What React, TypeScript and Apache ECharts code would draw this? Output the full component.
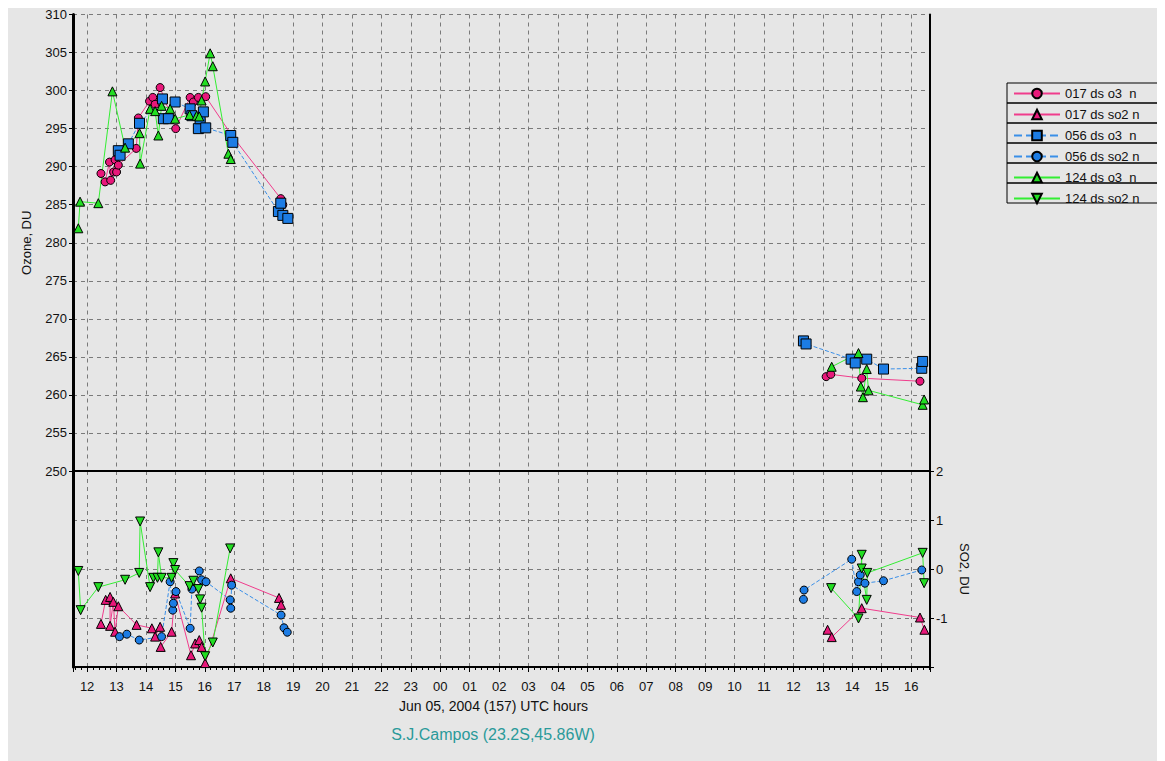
import React, { useEffect, useRef } from 'react';
import * as echarts from 'echarts';

// hours since 00 UTC Jun 05 (values > 24 belong to the next day)
const ozone017Early: [number, number][] = [[12.47,289.1],[12.61,288.0],[12.76,290.6],[12.8,288.2],[12.9,289.3],[12.95,290.9],[13.0,289.3],[13.06,290.2],[13.67,292.4],[13.74,296.4],[14.12,298.6],[14.23,299.1],[14.31,298.2],[14.48,300.4],[15.01,295.0],[15.5,299.1],[15.61,298.5],[15.78,299.1],[16.03,299.2],[16.9,294.2],[18.58,285.8],[18.65,285.0]];
const ozone017Late: [number, number][] = [[37.11,262.4],[37.27,262.7],[38.32,262.2],[40.3,261.8]];

const ozone056Early: [number, number][] = [[13.06,292.1],[13.12,291.5],[13.4,293.0],[13.78,295.7],[14.56,298.9],[14.59,296.3],[14.76,296.3],[14.99,298.5],[15.5,297.6],[15.56,296.7],[15.78,295.0],[15.84,296.3],[15.95,297.2],[16.03,295.1],[16.88,294.1],[16.95,293.2],[18.5,284.1],[18.58,285.2],[18.65,283.6],[18.82,283.2]];
const ozone056Late: [number, number][] = [[36.34,267.1],[36.43,266.7],[37.96,264.7],[38.1,264.2],[38.49,264.7],[39.06,263.4],[40.36,263.5],[40.39,264.4]];

const ozone124Early: [number, number][] = [[11.7,281.9],[11.76,285.4],[12.38,285.2],[12.86,299.9],[13.29,292.5],[13.78,294.4],[13.8,290.4],[14.14,297.6],[14.31,297.3],[14.42,294.1],[14.53,298.0],[14.82,297.6],[14.99,296.3],[15.48,296.8],[15.72,296.7],[15.81,296.6],[15.89,298.7],[16.01,301.2],[16.18,304.9],[16.27,303.2],[16.8,291.7],[16.88,291.0]];
const ozone124Late: [number, number][] = [[37.3,263.7],[38.21,265.5],[38.29,261.1],[38.36,259.7],[38.49,263.4],[38.55,260.6],[40.39,258.7],[40.44,259.4]];

const so2017Early: [number, number][] = [[12.47,-1.12],[12.63,-0.63],[12.78,-0.57],[12.78,-1.16],[12.89,-0.67],[12.95,-1.28],[13.06,-0.76],[13.68,-1.14],[14.2,-1.21],[14.31,-1.38],[14.48,-1.18],[14.5,-1.59],[14.87,-1.28],[14.99,-0.5],[15.53,-1.76],[15.67,-1.52],[15.81,-1.45],[15.89,-1.59],[16.01,-1.92],[16.88,-0.19],[18.52,-0.59],[18.59,-0.73]];
const so2017Late: [number, number][] = [[37.16,-1.24],[37.3,-1.39],[38.32,-0.8],[40.3,-0.99],[40.45,-1.24]];

const so2056Early: [number, number][] = [[13.1,-1.38],[13.35,-1.33],[13.77,-1.45],[14.53,-1.38],[14.82,-0.26],[14.91,-0.84],[14.93,-0.7],[15.02,-0.46],[15.5,-1.21],[15.56,-0.41],[15.81,-0.04],[15.89,-0.22],[16.04,-0.26],[16.86,-0.63],[16.88,-0.8],[16.91,-0.33],[18.59,-0.94],[18.69,-1.2],[18.8,-1.29]];
const so2056Late: [number, number][] = [[36.34,-0.62],[36.36,-0.43],[37.98,0.2],[38.15,-0.46],[38.21,-0.26],[38.27,-0.12],[38.43,-0.29],[39.06,-0.24],[40.36,-0.02]];

const so2124Early: [number, number][] = [[11.7,-0.04],[11.78,-0.84],[12.38,-0.37],[13.29,-0.22],[13.77,-0.08],[13.8,0.97],[14.14,-0.37],[14.25,-0.18],[14.39,-0.18],[14.42,0.34],[14.53,-0.18],[14.87,-0.18],[14.93,0.12],[14.99,-0.02],[15.48,-0.35],[15.61,-0.24],[15.78,-0.41],[15.84,-0.62],[15.89,-0.79],[16.01,-1.78],[16.27,-1.5],[16.86,0.42]];
const so2124Late: [number, number][] = [[37.28,-0.39],[38.21,-1.01],[38.32,0.29],[38.32,0.01],[38.49,-0.63],[38.51,-0.08],[40.39,0.33],[40.44,-0.29]];

const seriesNames = ['017 ds o3\u00a0 n', '017 ds so2 n', '056 ds o3\u00a0 n', '056 ds so2 n', '124 ds o3\u00a0 n', '124 ds so2 n'];
const ozoneRange = [250, 310];
const so2Range = [-2, 2];
const hourRange = [11.52, 40.64];
const xAxisTitle = 'Jun 05, 2004 (157) UTC hours';
const stationTitle = 'S.J.Campos (23.2S,45.86W)';

const FONT = '"Liberation Sans", Arial, Helvetica, sans-serif';
const PINK = '#e8187a';
const PINK_LINE = '#f03c8c';
const BLUE = '#1c7ce4';
const BLUE_LINE = '#3a8fe8';
const GREEN = '#22dd22';
const GREEN_LINE = '#33ee33';

const joinGap = (a: [number, number][], b: [number, number][]) => [...a, [27, '-'], ...b];

export default function App() {
  const ref = useRef<HTMLDivElement>(null);
  useEffect(() => {
    if (!ref.current) return;
    const chart = echarts.init(ref.current, undefined, { renderer: 'svg' });
    const dashed = { show: true, lineStyle: { color: '#7a7a7a', type: [4, 4] as any, width: 1 } };
    const mk = (name: string, data: any[], xi: number, yi: number, color: string, lineColor: string, symbol: string, size: number, lineType: string, rotate = 0) => ({
      name, type: 'line', xAxisIndex: xi, yAxisIndex: yi, data,
      symbol, symbolSize: size, symbolRotate: rotate, showAllSymbol: true,
      connectNulls: false,
      itemStyle: { color, borderColor: '#000', borderWidth: 1 },
      lineStyle: { color: lineColor, width: 1, type: lineType },
      emphasis: { disabled: true },
    });
    const option: any = {
      animation: false,
      backgroundColor: '#e6e6e6',
      textStyle: { fontFamily: FONT },
      title: {
        text: stationTitle, left: 485, top: 718, textAlign: 'center', padding: 0,
        textStyle: { fontSize: 16, fontWeight: 'normal', color: '#2a9a9a', fontFamily: FONT },
      },
      legend: {
        orient: 'vertical', left: 1005, top: 79, itemWidth: 46, itemHeight: 12, itemGap: 8,
        padding: 0,
        textStyle: { fontSize: 13, color: '#111', fontFamily: FONT, lineHeight: 12 },
        data: seriesNames,
        selectedMode: false,
      },
      graphic: seriesNames.map((_, i) => ({
        type: 'rect', shape: { x: 999, y: 75 + i * 20, width: 151, height: 20 },
        style: { fill: 'none', stroke: '#000', lineWidth: 1 }, silent: true,
      })),
      grid: [
        { left: 65, right: 235, top: 5, height: 458 },
        { left: 65, right: 235, top: 463, height: 196 },
      ],
      xAxis: [
        {
          gridIndex: 0, type: 'value', min: hourRange[0], max: hourRange[1], splitNumber: 29, minInterval: 1, maxInterval: 1,
          axisLine: { show: true, onZero: false, lineStyle: { color: '#000', width: 2 } },
          axisTick: { show: false }, axisLabel: { show: false }, splitLine: dashed,
        },
        {
          gridIndex: 1, type: 'value', min: hourRange[0], max: hourRange[1], splitNumber: 29, minInterval: 1, maxInterval: 1,
          axisLine: { show: true, onZero: false, lineStyle: { color: '#000', width: 2 } },
          axisTick: { show: true, length: 5, lineStyle: { color: '#000' } },
          minorTick: { show: true, splitNumber: 5, length: 3, lineStyle: { color: '#000' } },
          axisLabel: {
            color: '#111', fontSize: 13, margin: 13, fontFamily: FONT,
            formatter: (v: number) => Math.abs(v - Math.round(v)) < 1e-6 ? String(Math.round(v) % 24).padStart(2, '0') : '',
          },
          splitLine: dashed,
          name: xAxisTitle, nameLocation: 'middle', nameGap: 32,
          nameTextStyle: { color: '#111', fontSize: 14, padding: [0, 16, 0, 0], fontFamily: FONT },
        },
      ],
      yAxis: [
        {
          gridIndex: 0, type: 'value', position: 'left', min: ozoneRange[0], max: ozoneRange[1], interval: 5,
          axisLine: { show: true, onZero: false, lineStyle: { color: '#000', width: 3 } },
          axisTick: { show: true, length: 4, lineStyle: { color: '#000' } },
          axisLabel: { color: '#111', fontSize: 13, margin: 6, fontFamily: FONT },
          splitLine: dashed,
          name: 'Ozone, DU', nameLocation: 'middle', nameGap: 40, nameRotate: 90,
          nameTextStyle: { color: '#111', fontSize: 13, fontFamily: FONT },
        },
        {
          gridIndex: 0, type: 'value', position: 'right', min: ozoneRange[0], max: ozoneRange[1], interval: 5,
          axisLine: { show: true, onZero: false, lineStyle: { color: '#000', width: 2 } },
          axisTick: { show: false }, axisLabel: { show: false }, splitLine: { show: false },
        },
        {
          gridIndex: 1, type: 'value', position: 'right', min: so2Range[0], max: so2Range[1], interval: 1,
          axisLine: { show: true, onZero: false, lineStyle: { color: '#000', width: 2 } },
          axisTick: { show: true, length: 4, lineStyle: { color: '#000' } },
          axisLabel: { color: '#111', fontSize: 13, margin: 6, fontFamily: FONT, formatter: (v: number) => v === so2Range[0] ? '' : String(v) },
          splitLine: dashed,
          name: 'SO2, DU', nameLocation: 'middle', nameGap: 28, nameRotate: -90,
          nameTextStyle: { color: '#111', fontSize: 13, fontFamily: FONT },
        },
        {
          gridIndex: 1, type: 'value', position: 'left', min: so2Range[0], max: so2Range[1], interval: 1,
          axisLine: { show: true, onZero: false, lineStyle: { color: '#000', width: 3 } },
          axisTick: { show: false }, axisLabel: { show: false }, splitLine: { show: false },
        },
      ],
      series: [
        mk(seriesNames[0], joinGap(ozone017Early, ozone017Late), 0, 0, PINK, PINK_LINE, 'circle', 8, 'solid'),
        mk(seriesNames[1], joinGap(so2017Early, so2017Late), 1, 2, PINK, PINK_LINE, 'triangle', 9, 'solid'),
        mk(seriesNames[2], joinGap(ozone056Early, ozone056Late), 0, 0, BLUE, BLUE_LINE, 'rect', 10, 'dashed'),
        mk(seriesNames[3], joinGap(so2056Early, so2056Late), 1, 2, BLUE, BLUE_LINE, 'circle', 8, 'dashed'),
        mk(seriesNames[4], joinGap(ozone124Early, ozone124Late), 0, 0, GREEN, GREEN_LINE, 'triangle', 9, 'solid'),
        mk(seriesNames[5], joinGap(so2124Early, so2124Late), 1, 2, GREEN, GREEN_LINE, 'triangle', 9, 'solid', 180),
      ],
    };
    chart.setOption(option);
    return () => chart.dispose();
  }, []);
  return <div ref={ref} style={{ width: 1157, height: 753 }} />;
}
